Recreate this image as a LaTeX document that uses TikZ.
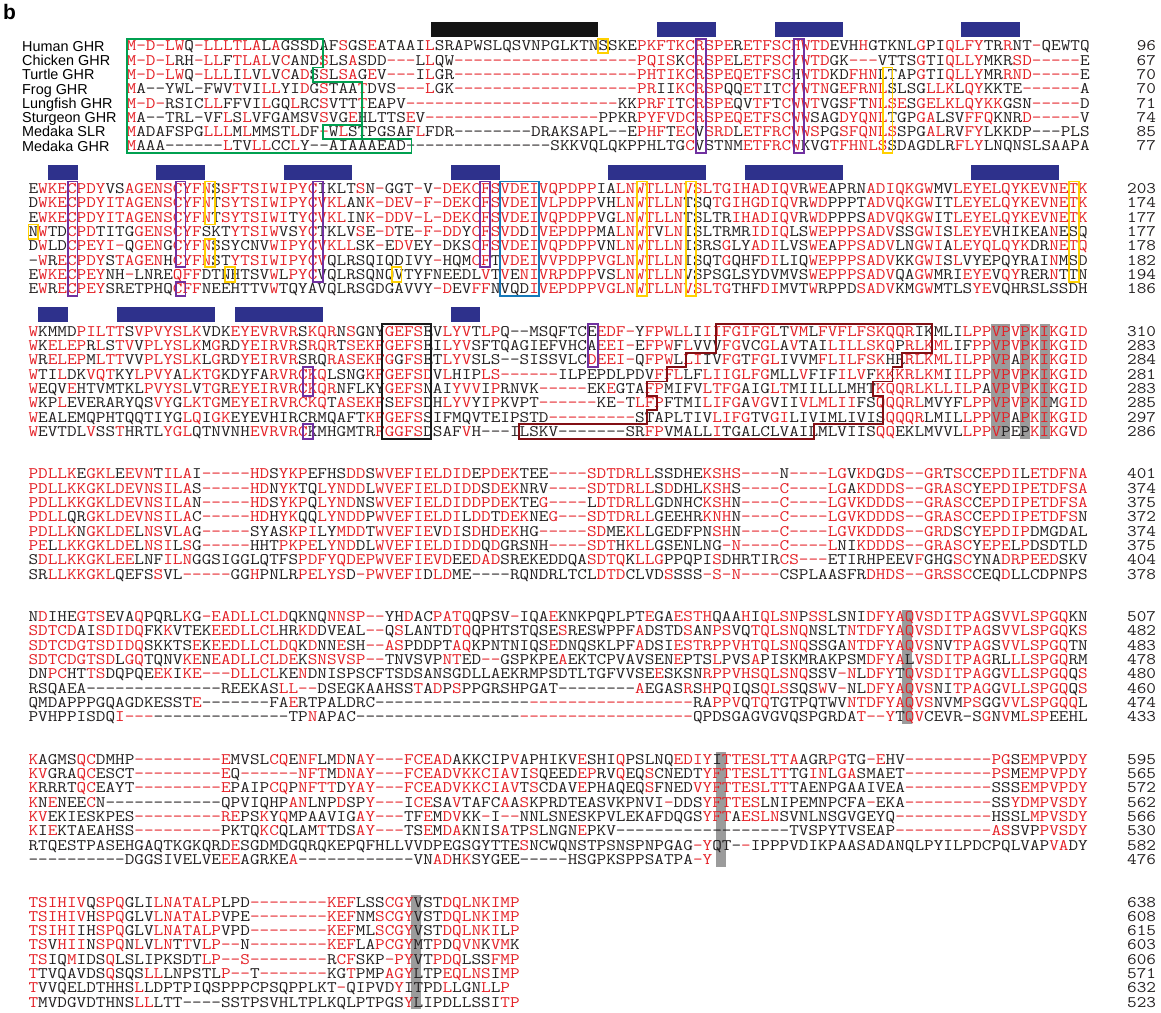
\documentclass[tikz,border=0pt]{standalone}
\usepackage{fontspec}
\usepackage{graphicx}
\newfontfamily\labfamily{Liberation Sans}
\definecolor{sqred}{RGB}{228,32,38}
\definecolor{sqblk}{RGB}{35,31,32}
\definecolor{barblue}{RGB}{46,49,140}
\definecolor{boxpurple}{RGB}{112,48,160}
\definecolor{boxyellow}{RGB}{255,208,0}
\definecolor{boxgreen}{RGB}{0,160,80}
\definecolor{boxblue}{RGB}{20,120,185}
\definecolor{boxmaroon}{RGB}{130,15,20}
\definecolor{hlgrey}{RGB}{155,155,155}
\newcommand\seqfont{\ttfamily\fontsize{18.7bp}{18.7bp}\selectfont}
\newcommand\labfont{\labfamily\fontsize{14.4bp}{14.4bp}\selectfont}
\newcommand\Sq[1]{\SqLoop#1\relax}
\def\SqLoop#1{\ifx\relax#1\else\SqChar#1\expandafter\SqLoop\fi}
\def\SqChar#1{\ifx.#1\textcolor{sqred}{-}\else\ifnum`#1>96 \textcolor{sqred}{\uppercase{#1}}\else\textcolor{sqblk}{#1}\fi\fi}
\tikzset{
 seq/.style={anchor=base west,inner sep=0pt,outer sep=0pt,font=\seqfont},
 num/.style={anchor=base east,inner sep=0pt,outer sep=0pt,font=\seqfont,text=sqblk},
 lab/.style={anchor=base west,inner sep=0pt,font=\labfont},
 pbox/.style={draw=boxpurple,line width=1.8bp},
 ybox/.style={draw=boxyellow,line width=1.8bp},
 gbox/.style={draw=boxgreen,line width=1.8bp},
 bbox/.style={draw=boxblue,line width=1.8bp},
 kbox/.style={draw=black!90,line width=1.8bp},
 mbox/.style={draw=boxmaroon,line width=1.8bp},
 hl/.style={fill=hlgrey},
 bluebar/.style={fill=barblue},
 blackbar/.style={fill=black!92},
}
\newcommand\SR[4]{\node[seq] (#1) at (0,{#2+0.34}) {\scalebox{1}[0.86]{\Sq{#3}}};
 \node[num] (#1n) at (\numx,{#2+0.34}) {\scalebox{1}[0.86]{#4}};}
\newcommand\Bar[3]{\fill[#1] ({#2-1},-1.68) rectangle (#3,-0.63);}
\begin{document}
\begin{tikzpicture}[x=1bp,y=-1bp]
\useasboundingbox (0,0) rectangle (1161,1013);
\node[anchor=base west,inner sep=0pt,font=\labfamily\bfseries\fontsize{21bp}{21bp}\selectfont] (panelb) at (3,19) {b};
\foreach \t [count=\i from 0] in {Human GHR,Chicken GHR,Turtle GHR,Frog GHR,Lungfish GHR,Sturgeon GHR,Medaka SLR,Medaka GHR}
  \node[lab] (lab\i) at (22,{46+14.3*\i+5.15}) {\t};
% ---------------- block 1
\begin{scope}[shift={(126.7,46)},x=9.8175bp,y=-14.3bp]
\def\numx{104.84}
\Bar{blackbar}{32}{48}\Bar{bluebar}{55}{60}\Bar{bluebar}{67}{73}\Bar{bluebar}{86}{91}
\SR{a1}{0}{m.d.lwQ.llltlaLaGSSDAFsGSeATAAIlSRAPWSLQSVNPGLKTNSSKEpkftkcrspeRetfschwtdEVHhGTKNLgPIqlfyTRrNT.QEWTQ}{96}
\SR{a2}{1}{m.d.lRH.llFtlalVcANDsLSaSDD...LlQW...................pqisKcrspeLetfscywtdGK...VTTSgTIqllyMKRsd.....E}{67}
\SR{a3}{2}{m.d.lwQ.lllIlVlVcAdSsLsaGeV...IlGR...................phtikcrspeqetfscHwtdKDfhnLTAPgTIqllyMRrnd.....E}{70}
\SR{a4}{3}{mA--YWL-FWVtVIllYIdGsTAAtDVS...lGK...................prIIkcrspQQetITcywtnGefrnlSLSGllkLqyKKTE......A}{70}
\SR{a5}{4}{m.d.RSICllFFVIlGQlRCsVTTtEAPV......................KKprfiTcrspeQVtfTcwwtVGSfTnlseSgelklqykkGSN.....D}{71}
\SR{a6}{5}{mA--TRL-VFlSlVFGAMSVsVGeHLTTSeV..................PPKRpyfvdcrspeqetfscwwSAGdyqnlTGPgaLSVffqKNRd.....V}{74}
\SR{a7}{6}{mADAFSPGlllMlMMSTlDF.WlSTPGSAFlFDR--------DRAKSAPL--EphfTecVsrdLetfrcwwsPGsfqnlsSPGalRVfyLKKDP---PLS}{85}
\SR{a8}{7}{mAAA------lTVllCClY--AIAAAEAD---------------SKKVQLQKPPHLTGcVSTNMetfrcwKVGtfhnlsSDAGDLRflyLNQNSLSAAPA}{77}
\draw[pbox] (58,-0.5) rectangle (59,7.5);
\draw[pbox] (68,-0.5) rectangle (69,7.5);
\draw[ybox] (48,-0.5) rectangle (49,0.5);
\draw[ybox] (77,1.5) rectangle (78,7.5);
\draw[gbox] (0,-0.5) -- (20,-0.5) -- (20,1.5) -- (19,1.5) -- (19,2.5) -- (24,2.5) -- (24,5.5) -- (20,5.5) -- (20,6.5) -- (29,6.5) -- (29,7.5) -- (0,7.5) -- cycle;
\draw[gbox] (24,5.5) -- (24,6.5);
\end{scope}
% ---------------- block 2
\begin{scope}[shift={(28.5,188.7)},x=9.8175bp,y=-14.3bp]
\def\numx{114.85}
\Bar{bluebar}{3}{5}\Bar{bluebar}{14}{18}\Bar{bluebar}{27}{33}\Bar{bluebar}{44}{48}\Bar{bluebar}{60}{69}\Bar{bluebar}{74}{83}\Bar{bluebar}{97}{105}
\SR{b1}{0}{EwkecpdyVSagenscyfnSsftsiwipycIKLTsN.GGT.V.dekcfsvdeivqpdppIAlnwtllnvsltgihadiqvRweAPRNadiqkgwMVleyelqykevnetk}{203}
\SR{b2}{1}{DwkecpdyitagenscyfnTsytsiwipycvklANk.dev.f.dekcfsvdeivlpdppVHlnwtllnTSQtgihgdiqvRwdPPPTadvqkgwITleyelqykevnetk}{174}
\SR{b3}{2}{EwkecpdyitagenscyfnTsytsiwiTycvklINk.ddv.l.dekcfsvdeivqpdppVGlnwtllnTSLTRihadiqvRwdPPPSadvqkgwITleyelqykevnetk}{177}
\SR{b4}{3}{NwTDcpdTITGgenscyfSKTytsiwVSycTKLVsE.dTE.f.ddYcfsvdDivepdppMAlnwtVlnISLTRMRidiqLSwepppsadvSSgwiSleyeVHIKEAnESQ}{177}
\SR{b5}{4}{DwLDcpeyi.QgenGcyfnSSYCNVwipycvkllSK.EdvEY.DKScfsvdeivqpdppVNlnwtllnISRSgLYadiLVSweAppsadvLNgwiAleyqlqykDRnetq}{178}
\SR{b6}{5}{-wRecpdyStagenHcyfnSTytsiwipycvQLRSQIQDIVY.HQMcfTvdeivvpdppvglnwtllnISQTgQHFdiLIQwepppsadvKKgwiSlVYEPQYRAInMSD}{182}
\SR{b7}{6}{EwkecpeyNH.LNREqffDTNHTSVwLpycVQLRSQNQVTYFNEEDLvTvEnivrpdppVSlnwtllnVSPSGLSYDVMVSwepppsadvQAgwMRIeyeVqyRERnTTN}{194}
\SR{b8}{7}{EwRecpeySRETPHQcffNEEHTTVwTQYAVQLRSGDGAVVY.dEVffNVQDivepdppvglnwtllnvsltgTHFdiMVTwRPPDsadvKMgwMTLSyeVQHRSLSSDH}{186}
\draw[pbox] (4,-0.5) rectangle (5,7.5);
\draw[pbox] (15,-0.5) rectangle (16,5.5);
\draw[pbox] (15,6.5) rectangle (16,7.5);
\draw[pbox] (29,-0.5) rectangle (30,6.5);
\draw[pbox] (46,-0.5) rectangle (47,5.5);
\draw[ybox] (18,-0.5) rectangle (19,2.5);
\draw[ybox] (0,2.5) rectangle (1,3.5);
\draw[ybox] (18,3.5) rectangle (19,5.5);
\draw[ybox] (20,5.5) rectangle (21,6.5);
\draw[ybox] (37,5.5) rectangle (38,6.5);
\draw[ybox] (62,-0.5) rectangle (63,7.5);
\draw[ybox] (67,-0.5) rectangle (68,7.5);
\draw[ybox] (106,-0.5) rectangle (107,6.5);
\draw[bbox] (48,-0.5) rectangle (52,7.5);
\end{scope}
% ---------------- block 3
\begin{scope}[shift={(28.5,331.4)},x=9.8175bp,y=-14.3bp]
\def\numx{114.85}
\Bar{bluebar}{2}{4}\Bar{bluebar}{10}{19}\Bar{bluebar}{22}{30}\Bar{bluebar}{44}{46}
\fill[hl] (98,-0.5) rectangle (100,7.5);
\fill[hl] (101,-0.5) rectangle (102,7.5);
\fill[hl] (103,-0.5) rectangle (104,7.5);
\SR{c1}{0}{wKMMDpilttSvpvyslkVDKeyevrvrSkqrNsGNYgefsEVlyvTlpQ--MSQFTCEedf.YfpwllIiifgifglTvmLfvflfskqqrIKMLIlppvpvpkikgid}{310}
\SR{c2}{1}{wKelepRlStvVplyslkMgRDyeirvrSrqrTsekfgefsEIlyvSFTQAGIEFVHCAeei.EfpwFlVVVfgVCglAvTAIlillskqPrlkmlIFppvpvpkikgid}{283}
\SR{c3}{2}{wRelepMlttVVplyslkLgRDyeirvrSRQrasekfgGfsETlyvSLS--SISSVLCdeei.QfpwLliIVfgTfglIVVMflilfskHRrlkmlilppvpApkikgid}{284}
\SR{c4}{3}{wTIlDKvqtKYlpvyAlktgKDYFArvrckqLSNGkfgefsdVlHIPls......ILPEPDLPDVfflLFliiglfgMLLvFIFilvFkkkrlkmIilppvpvpkikgid}{281}
\SR{c5}{4}{wEQVeHTVMTKLpvyslVtgReyeirvrckqrNFLKYgefsNAIyvvIpRNVK.....EKeGTAfpMIFVltfgAIGltMIILLLMHTkqqrlkllilpAvpvpkikgid}{283}
\SR{c6}{5}{wKPlEVERARYQSvyGlktgMeyeirvrckqTasekfSefsDHlyvYIpKVPT......KE.TlfpFTMIlifgAvgVIIvlmliiFSqqqrlMVYFlppvpvpkiMgid}{285}
\SR{c7}{6}{wEALEMQPHTQQTIYGlqIgkEYEVHIRCRMQAFTkfgefsSIFMQVTEIPSTD.........STAPLTIVlifgTVgiLIVIMLIVISqqqrLMILlppvpApkikgid}{297}
\SR{c8}{7}{wEVTDLvSStHRTLyglQTNVNHevrvrcKMHGMTRfggfsDSAFvH---ILSKV-------SRfpVMALLiTGALCLVAILMLVIISqqEKLMVVLlppvPEPkikgVd}{286}
\draw[kbox] (36,-0.5) rectangle (41,7.5);
\draw[pbox] (57,-0.5) rectangle (58,2.5);
\draw[pbox] (28,2.5) rectangle (29,4.5);
\draw[pbox] (28,6.5) rectangle (29,7.5);
\draw[mbox] (70,-0.5) -- (92,-0.5) -- (92,1.5) -- (89,1.5) -- (89,2.5) -- (88,2.5) -- (88,3.5) -- (86,3.5) -- (86,4.5) -- (87,4.5) -- (87,6.5) -- (80,6.5) -- (80,7.5) -- (50,7.5) -- (50,6.5) -- (63,6.5) -- (63,5.5) -- (64,5.5) -- (64,4.5) -- (63,4.5) -- (63,3.5) -- (65,3.5) -- (65,2.5) -- (67,2.5) -- (67,1.5) -- (70,1.5) -- cycle;
\end{scope}
% ---------------- block 4
\begin{scope}[shift={(28.5,474.1)},x=9.8175bp,y=-14.3bp]
\def\numx{114.85}
\SR{d1}{0}{pdllkEgklEevnTilaI.....hdSykpEFHSddSwvefieldidEpdekTEE....sdtdrllSSDHEkshs....N....lgVkdGds..grTscCepdiLetdfna}{401}
\SR{d2}{1}{pdllkkgkldevnsilaS.....hdNykTQlynddLwvefieldiddSdekNRV....sdtdrllSdDHLkshS....c....lgAkddds..grascYepdipetdfsa}{374}
\SR{d3}{2}{pdllkkgkldevnsilaN.....hdSykpQlyndNSwvefieldiddpdekTEg....LdtdrllGDNHCkshN....c....lgvkddds..grascCepdipetdfsa}{375}
\SR{d4}{3}{pdllQRgkldevnsilaC.....hdHykQQlynddPwvefieldiLddTdekNEg...sdtdrllGEEHRknhN....c....lgvkddds..grascCepdipetdfsN}{372}
\SR{d5}{4}{pdllkNgkldeLnsVlaG.....SYASkpiLYmddTwvefieVdiSdHdekHG.....sdMEklLGEDFPNshN....c....lgvkddds..grdScYepdipDMGDAL}{374}
\SR{d6}{5}{peLlkkgkldeLnsiLsG.....HHTpkpeLyndDLwvefieldiddQdGRSNH....sdtHkllGSENLNG.n....c....lNIkddds..grascYepeLpDSDTLD}{375}
\SR{d7}{6}{SdllkkgkleeLNFilnGGSIGGLQTFSpdfyqdepwvefievdEEdadSREKEDDQAsdtqKllgPPQPIsDHRTIRcs...ETIRHPEEVfGHGscYNAdrpeedSKV}{404}
\SR{d8}{7}{SRllkkgklQEFSsVL.....GGhPNLRpelysD.pwvefiDldME----RQNDRLTCLdtdCLVDsSSS.s.n....CSPLAASFRdhds..grsscCEQdLLCDPNPS}{378}
\end{scope}
% ---------------- block 5
\begin{scope}[shift={(28.5,616.8)},x=9.8175bp,y=-14.3bp]
\def\numx{114.85}
\fill[hl] (89,-0.5) rectangle (90,7.5);
\SR{e1}{0}{NdIHEgtsEVAqPQRLkG.eadllcldQKNQnnsp..YHdACpatqQPSV.IQAeKNKPQPLPTeGAesthQAAhIqlsnPssLSNIdfyaqvsditpagSvvlspgqKN}{507}
\SR{e2}{1}{sdtcdAIsdidqFKkVTEKeedllclHRkdDVEAL..QsLANTDtqQPHTSTQSEsRESWPPFaDSTDsANpsVQtqlsnqNSLTntdfyaqvsditpagSvvlspgqKs}{482}
\SR{e3}{2}{sdtcdgtsdidqSKKTSeKeedllcldqKdNNeSH..asPDDPTaqKPNTNIQSeDNQSKLPFaDSIestrppvhtqlsnqSSGAntdfyaqvsNVtpagSvvlspgqTN}{483}
\SR{e4}{3}{sdtcdgtsdLgqTQNVkeNeadllcldeKsnsvsp..TNVSVPntED..GSPKPEaEKTCPVAVSENePTSlPVSaPISKMRAKPSMdfyaLvsditpagRLllspgqRM}{478}
\SR{e5}{4}{DNpcHTtsDQPQEekIke...dllclKEnDNISPSCFTSDSANSGDLLAEKRMPSDTLTGFVVSEeSKSNrppvhsqlsnqSSV.nLdfyTqvsditpagGvllspgqQs}{480}
\SR{e6}{5}{RSQAEA--------------REEKASll..DSEGKAAHSStAdPsPPGRSHPGAT--------aEGASrShPqIQSqlsSQSwV.NLdfyaqvsNItpagGvllspgqQs}{460}
\SR{e7}{6}{QMDAPPPGQAGDKESSTe-------FAeRTPALDRC----------------.................RAppvQtqTGTPQTWVntdfyaqvsNVMpsGGvvlspgqqL}{474}
\SR{e8}{7}{PVHPPISDQi...--------------TPnAPAC-----------------..................QPDSGAGVGVQSPGRDAt..yTqvCEVR-SgNvMlspEEHL}{433}
\end{scope}
% ---------------- block 6
\begin{scope}[shift={(28.5,759.5)},x=9.8175bp,y=-14.3bp]
\def\numx{114.85}
\fill[hl] (70,-0.5) rectangle (71,7.5);
\SR{f1}{0}{kAGMSqcDMHP.........eMVSLcqEnfLMdNay...fceadAKKCIPvAPHIKVeSHIqPSLNQediyItteslttaAGRpgTG.eHV.........pgSempvPdy}{595}
\SR{f2}{1}{kvGRAqcESCT.........eQ......nftMdnay...fceadvkkciavIsQEEDepRVqEQsCNEDTyftteslttTGinLgaSMAET.........psMempvpdy}{565}
\SR{f3}{2}{kRRRTqcEAYT.........ePAIPcqPnfttDyay...fceadvkkciavTsCDAVePHAQEQsFNEDvyftteslttTAENPGAAIVEA.........SSSempvpdy}{572}
\SR{f4}{3}{kNeNEEcN------------QPVIQHPanLNPdSPy...IceSAvTAFCaAsKPRDTEASVKPNVI.DDSyfttesLNIPEMNPCFA.EKA.........SSydmpvsdy}{562}
\SR{f5}{4}{kvEKIESKPES.........rePSkYqMPAAVIGay...TFeMdvKK.I..NNLSNESKPVLEKAFDQGSyftAeslnSVNLNSGVGEYQ..........HSSLmpvsdy}{566}
\SR{f6}{5}{kIeKTAEAHSS.........PKTQkcQLAMtTDSay...TSeMdaKNISaTPsLNGNePKV------------------TVSPYTVSEAP..........asSVPpvsdy}{530}
\SR{f7}{6}{RTQESTPASEHGAQTKGKQRDeSGDMDGQRQKEPQFHLLVVDPEGSGYTTEsNCWQNSTPSNSPNPGAG.yQT-.IPPPVDIKPAASADANQLPYILPDCPQLVAPvaDY}{582}
\SR{f8}{7}{----------DGGSIVELVEeeAGRKEa------------VNadHkSYGEE-----HSGPKSPPSATPA.y}{476}
\end{scope}
% ---------------- block 7
\begin{scope}[shift={(28.5,902.2)},x=9.8175bp,y=-14.3bp]
\def\numx{114.85}
\fill[hl] (39,-0.5) rectangle (40,7.5);
\SR{g1}{0}{tsihivQspqGLIlnatalpLPD........kefLSScgyVSTdqlnkimp}{638}
\SR{g2}{1}{tsihivHspqGLVlnatalpVPE........kefNMscgyVSTdqlnkimp}{608}
\SR{g3}{2}{tsihiIHspqGLVlnatalpVPD........kefMLscgyVSTdqlnkiLp}{615}
\SR{g4}{3}{tsVhiiNspqNlVlnTtVlp..N........kefLApcgyMTpDqvnKvmK}{603}
\SR{g5}{4}{tsIQmIDSqLSLIPKSDTlp..s........RcfSKP.pyVTpdqLSSfmp}{606}
\SR{g6}{5}{tTVQAVDSqSQSllLNPSTLp..T.......KGtPMPagyLTPeqlnsImp}{571}
\SR{g7}{6}{tVVQELDTHHSlLDPTPIQSPPPCPSQPPLKT.QIPVDyITPDlLGNlLp}{632}
\SR{g8}{7}{tMVDGVDTHNSllLTT----SSTPSVHLTPLKQLPTPGSyLIPDLLSSItp}{523}
\end{scope}
\end{tikzpicture}
\end{document}
